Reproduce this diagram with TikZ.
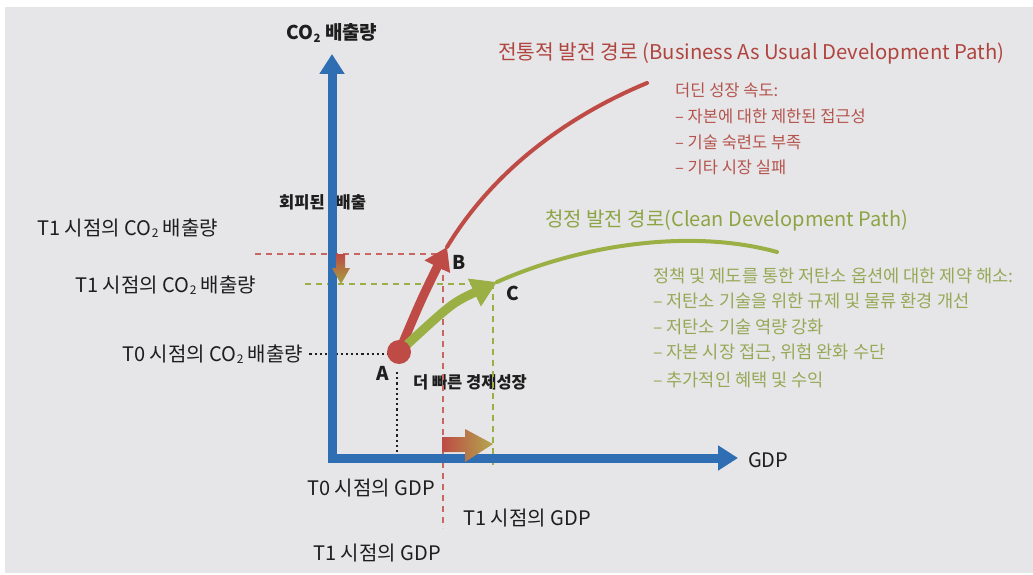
\documentclass[tikz,border=0pt]{standalone}
\usepackage{fontspec}
\setmainfont{Noto Sans CJK KR}
\usetikzlibrary{arrows.meta}
\newcommand{\cotwo}{CO\kern0.02em\raisebox{-0.12em}{\scalebox{0.6}{2}}}
\definecolor{bg}{HTML}{E6E6E8}
\definecolor{axisblue}{HTML}{2F6EB3}
\definecolor{bred}{HTML}{BE4B45}
\definecolor{cgreen}{HTML}{9AB045}
\definecolor{tred}{HTML}{B0443E}
\definecolor{lred}{HTML}{B5544D}
\definecolor{tgreen}{HTML}{8CA443}
\definecolor{lgreen}{HTML}{97A857}
\definecolor{ink}{HTML}{1E1E1E}
\definecolor{olivegr}{HTML}{A3A23E}
\definecolor{goldol}{HTML}{B2A84E}
\begin{document}
\begin{tikzpicture}[x=1pt,y=-1pt,
  lbl/.style={font=\fontsize{20}{24}\selectfont, text=ink, inner sep=0pt},
  blbl/.style={font=\fontsize{16.5}{20}\selectfont\bfseries, text=ink, inner sep=0pt},
  ptlbl/.style={font=\fontsize{19}{22}\selectfont\bfseries, text=ink, inner sep=0pt},
  redtitle/.style={font=\fontsize{20.3}{24}\selectfont, text=tred, inner sep=0pt, anchor=west},
  greentitle/.style={font=\fontsize{20}{24}\selectfont, text=tgreen, inner sep=0pt, anchor=west},
  redlist/.style={font=\fontsize{16.5}{20}\selectfont, text=lred, inner sep=0pt, anchor=west},
  greenlist/.style={font=\fontsize{17.6}{21}\selectfont, text=lgreen, inner sep=0pt, anchor=west},
  axisline/.style={draw=axisblue, line width=9pt, line join=miter},
  reddash/.style={draw=bred!85, line width=1.6pt, dash pattern=on 6pt off 5pt},
  greendash/.style={draw=cgreen, line width=1.6pt, dash pattern=on 6pt off 5pt},
  blackdot/.style={draw=ink, line width=2pt, dash pattern=on 2.2pt off 3pt},
  thinred/.style={draw=bred, line width=4pt, line cap=round},
  thingreen/.style={draw=cgreen, line width=4pt, line cap=round},
  dotA/.style={circle, fill=bred, minimum size=24pt, inner sep=0pt}
]
\fill[white] (0,0) rectangle (1033,575);
\fill[bg] (5,7) rectangle (1033,573);
\useasboundingbox (0,0) rectangle (1033,575);

% coordinates
\coordinate (O) at (332,458);
\coordinate (ytip) at (332,54);
\coordinate (xtip) at (738,458);
\coordinate (A) at (399,352);
\coordinate (B) at (447,247);
\coordinate (C) at (497,282);
\coordinate (D) at (647,83);
\coordinate (E) at (777,252);
\coordinate (rdL) at (255,254);
\coordinate (rdC) at (443,254);
\coordinate (rdB) at (443,528);
\coordinate (gdL) at (305,284);
\coordinate (gdC) at (493,284);
\coordinate (gdB) at (493,466);
\coordinate (bdT) at (397,372);
\coordinate (bdB) at (397,458);

% texts
\node[blbl, anchor=west] (avoided) at (279,202) {회피된\hspace{11pt}배출};
\node[ptlbl] (co2lab) at (332,33) {\cotwo{} 배출량};
\node[lbl, anchor=west] (gdplab) at (748,460) {GDP};
\node[lbl, anchor=west] (t1coa) at (37,228) {T1 시점의 \cotwo{} 배출량};
\node[lbl, anchor=west] (t1cob) at (75,285) {T1 시점의 \cotwo{} 배출량};
\node[lbl, anchor=west] (t0co) at (122,354) {T0 시점의 \cotwo{} 배출량};
\node[blbl] (faster) at (470,382) {더 빠른 경제성장};
\node[lbl] (t0gdp) at (371,488) {T0 시점의 GDP};
\node[lbl] (t1gdpa) at (527,518) {T1 시점의 GDP};
\node[lbl] (t1gdpb) at (377,553) {T1 시점의 GDP};

\node[redtitle] (rtitle) at (498,53) {전통적 발전 경로 (Business As Usual Development Path)};
\node[redlist] (r1) at (675,90) {더딘 성장 속도:};
\node[redlist] (r2) at (675,116) {– 자본에 대한 제한된 접근성};
\node[redlist] (r3) at (675,142) {– 기술 숙련도 부족};
\node[redlist] (r4) at (675,167) {– 기타 시장 실패};

\node[greentitle] (gtitle) at (545,220) {청정 발전 경로(Clean Development Path)};
\node[greenlist] (g1) at (653,276) {정책 및 제도를 통한 저탄소 옵션에 대한 제약 해소:};
\node[greenlist] (g2) at (653,301) {– 저탄소 기술을 위한 규제 및 물류 환경 개선};
\node[greenlist] (g3) at (653,327) {– 저탄소 기술 역량 강화};
\node[greenlist] (g4) at (653,353) {– 자본 시장 접근, 위험 완화 수단};
\node[greenlist] (g5) at (653,380) {– 추가적인 혜택 및 수익};

% guide lines
\draw[reddash] (rdL) -- (rdC) -- (rdB);
\draw[greendash] (gdL) -- (gdC) -- (gdB);
\draw[blackdot] (t0co.east) ++(6,0) -- (388,354);
\draw[blackdot] (bdT) -- (bdB);

% axes
\draw[axisline, {Triangle[length=20pt,width=24pt]}-{Triangle[length=20pt,width=24pt]}] (ytip) -- (O) -- (xtip);

% paths
\draw[thinred] (B) .. controls (495,168) and (570,115) .. (D);
\draw[thingreen] (C) .. controls (580,245) and (690,228) .. (E);
\draw[draw=bred, line width=9pt, -{Triangle[length=22pt,width=27pt]}] (A) .. controls (421,300) .. (B);
\draw[draw=cgreen, line width=9pt, -{Triangle[length=25pt,width=29pt]}] (A) .. controls (452,303) .. (C);
\node[dotA] (Adot) at (A) {};

% gradient arrows
\shade[top color=bred, bottom color=olivegr]
  (336,254) -- (345,254) -- (345,268) -- (350,268) -- (341,284) -- (332,268) -- (336,268) -- cycle;
\shade[left color=bred, right color=goldol]
  (442,437) -- (465,437) -- (465,429) -- (493,444) -- (465,462) -- (465,452) -- (442,452) -- cycle;

% point labels
\node[ptlbl] (Alab) at (383,373) {A};
\node[ptlbl] (Blab) at (459,262) {B};
\node[ptlbl] (Clab) at (513,293) {C};
\end{tikzpicture}
\end{document}
